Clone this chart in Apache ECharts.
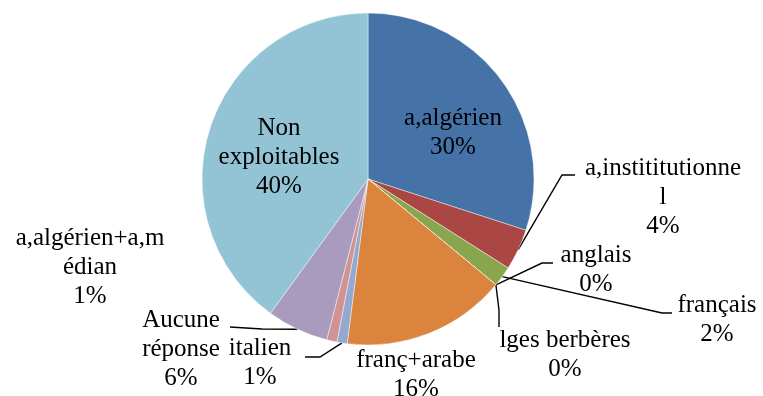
<!DOCTYPE html>
<html>
<head>
<meta charset="utf-8">
<script src="https://cdn.jsdelivr.net/npm/echarts@6/dist/echarts.min.js"></script>
<style>
  html, body { margin: 0; padding: 0; background: #ffffff; }
  #chart { width: 763px; height: 396px; }
</style>
</head>
<body>
<div id="chart"></div>
<script>
// Répartition des réponses (en %)
const categories = [
  'a,algérien', 'a,instititutionnel', 'français', 'anglais', 'lges berbères',
  'franç+arabe', 'italien', 'a,algérien+a,médian', 'Aucune réponse', 'Non exploitables'
];
// Label text as wrapped on the chart
const labelTexts = [
  'a,algérien', 'a,instititutionne\nl', 'français', 'anglais', 'lges berbères',
  'franç+arabe', 'italien', 'a,algérien+a,m\nédian', 'Aucune\nréponse', 'Non\nexploitables'
];
const shares = [30, 4, 2, 0, 0, 16, 1, 1, 6, 40];
const colors = [
  '#4572A7', '#AA4643', '#89A54E', '#80699B', '#3D96AE',
  '#DB843D', '#93A9CF', '#D09392', '#A99BBD', '#93C4D6'
];

// Where each label block sits (centre) and how its leader line bends
const labelPlaces = [
  { x: 453, y: 133 },
  { x: 663, y: 197, line: [[562, 175], [575, 175]] },
  { x: 717, y: 320, line: [[662, 313], [672, 313]] },
  { x: 596, y: 270, line: [[542, 263], [553, 263]] },
  { x: 565, y: 355, line: [[499, 310], [499, 327]] },
  { x: 416, y: 375 },
  { x: 260, y: 363, line: [[320, 357], [305, 357]] },
  { x: 90,  y: 267 },
  { x: 181, y: 349, line: [[262, 329], [230, 327]] },
  { x: 279, y: 157 }
];

const inside = new Set([0, 9]);
const noLine = new Set([5, 7]);

const data = categories.map((name, i) => ({
  name,
  value: shares[i],
  itemStyle: { color: colors[i] },
  label: { position: inside.has(i) ? 'inside' : 'outside' },
  labelLine: { show: !inside.has(i) && !noLine.has(i) }
}));

const chart = echarts.init(document.getElementById('chart'), null, { renderer: 'canvas' });
chart.setOption({
  backgroundColor: '#ffffff',
  animation: false,
  series: [{
    type: 'pie',
    center: [368, 179],
    radius: 166,
    startAngle: 90,
    clockwise: true,
    avoidLabelOverlap: false,
    minShowLabelAngle: 0,
    itemStyle: { borderColor: 'rgba(255,255,255,0.55)', borderWidth: 0.8 },
    label: {
      show: true,
      color: '#000000',
      fontFamily: 'Liberation Serif',
      fontSize: 25,
      lineHeight: 29,
      align: 'center',
      formatter: p => labelTexts[p.dataIndex] + '\n' + p.value + '%'
    },
    labelLine: {
      lineStyle: { color: '#000000', width: 1.4 },
      length: 20,
      length2: 10
    },
    emphasis: { disabled: true },
    labelLayout: params => {
      const place = labelPlaces[params.dataIndex];
      const out = { x: place.x, y: place.y, align: 'center', verticalAlign: 'middle' };
      if (place.line && params.labelLinePoints) {
        out.labelLinePoints = [params.labelLinePoints[0]].concat(place.line);
      }
      return out;
    },
    data
  }]
});
</script>
</body>
</html>
